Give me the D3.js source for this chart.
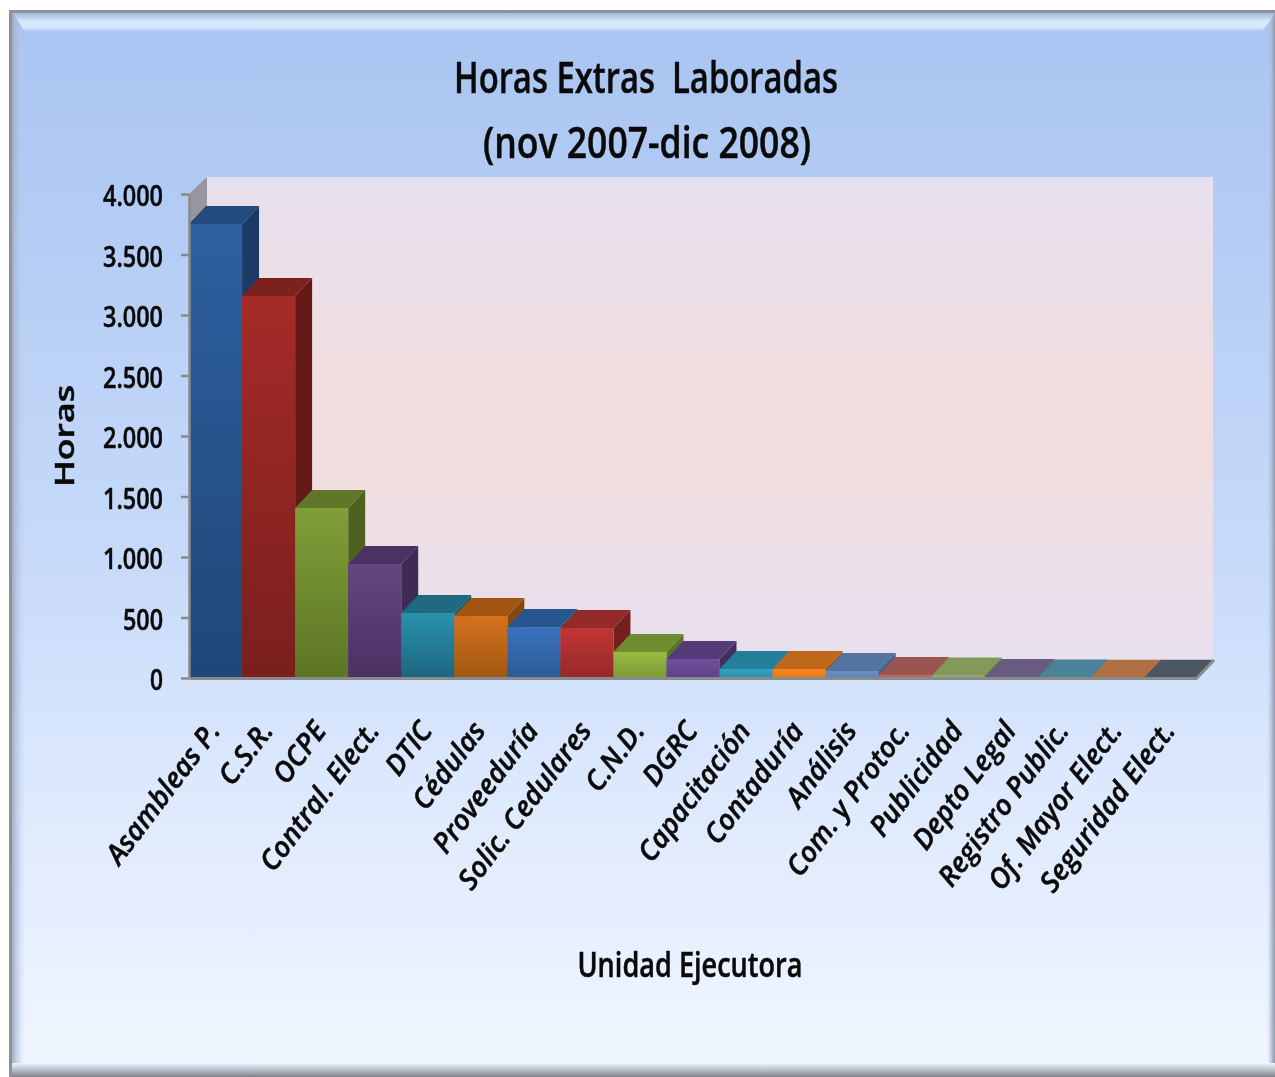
<!DOCTYPE html>
<html>
<head>
<meta charset="utf-8">
<script src="https://cdn.jsdelivr.net/npm/d3@7"></script>
<style>
  html, body { margin: 0; background: #fff; }
  svg { display: block; }
  text { font-family: "Open Sans", sans-serif; fill: #0a0a0a; stroke: #0a0a0a; stroke-width: 0.5px; white-space: pre; }
</style>
</head>
<body>
<div id="viz"></div>
<script>
// Chart values
const categories = ['Asambleas P.', 'C.S.R.', 'OCPE', 'Contral. Elect.', 'DTIC', 'Cédulas', 'Proveeduría',
  'Solic. Cedulares', 'C.N.D.', 'DGRC', 'Capacitación', 'Contaduría', 'Análisis', 'Com. y Protoc.',
  'Publicidad', 'Depto Legal', 'Registro Public.', 'Of. Mayor Elect.', 'Seguridad Elect.'];
const horas = [3752, 3157, 1405, 942, 537, 512, 421, 413, 215, 157, 74, 74, 58, 25, 20, 8, 5, 3, 2];
const yTicks = [0, 500, 1000, 1500, 2000, 2500, 3000, 3500, 4000];

// Colours per bar: front top, front bottom, top face, side face
const frontTop = ['#2d60a0', '#a52b28', '#809f38', '#65457f', '#2a91ad', '#d5701c', '#3a72bd', '#c03633', '#98bb43', '#7350a0', '#2ea4c8', '#fa8420', '#6a90c8', '#c26a66', '#9cb46c', '#7c6c96', '#5c98ac', '#c8804e', '#5c6674'];
const frontBottom = ['#1f4778', '#7a1f1d', '#5c7525', '#4a3163', '#1c667f', '#a05a12', '#2b5a97', '#96282a', '#7a9a35', '#5f4088', '#2890ae', '#e87818', '#5c80b8', '#b05c58', '#8ca45c', '#6c5c86', '#4c889c', '#b8703e', '#4c5664'];
const topFace = ['#224a7c', '#7c211e', '#5f7727', '#4b3264', '#1f6a80', '#a05513', '#27568f', '#932a27', '#6f8c30', '#553a78', '#237f9b', '#bf6819', '#54739f', '#9b5551', '#83995a', '#695a80', '#4a8298', '#b07044', '#4d5663'];
const sideFace = ['#1c3a66', '#651a18', '#4d6120', '#3f2a55', '#175a6c', '#864810', '#214a7a', '#73201e', '#5c7427', '#432e60', '#1c6a80', '#9a5514', '#44608a', '#7c4442', '#6c7f4a', '#564a6a', '#3c6c7e', '#925c38', '#3f4753'];

const W = 1275, H = 1077;
// Front plane of the plot and the depth of the 3D offset
const plot = { left: 189, right: 1197, top: 194, bottom: 678 };
const depth = { x: 17, y: 18 };

const svg = d3.select('#viz').append('svg').attr('width', W).attr('height', H);
const defs = svg.append('defs');

function vGrad(id, stops) {
  const g = defs.append('linearGradient').attr('id', id)
    .attr('x1', 0).attr('y1', 0).attr('x2', 0).attr('y2', 1);
  stops.forEach(s => g.append('stop').attr('offset', s[0]).attr('stop-color', s[1]));
}
function hGrad(id, stops) {
  const g = defs.append('linearGradient').attr('id', id)
    .attr('x1', 0).attr('y1', 0).attr('x2', 1).attr('y2', 0);
  stops.forEach(s => g.append('stop').attr('offset', s[0]).attr('stop-color', s[1]).attr('stop-opacity', s[2]));
}

vGrad('bg', [[0, '#a8c4f1'], [0.5, '#c6d9f9'], [0.72, '#dce8fd'], [1, '#f1f7ff']]);
vGrad('wall', [[0, '#e6e0ee'], [0.5, '#f3dddd'], [1, '#e7e0ee']]);
vGrad('bevelTop', [[0, '#9cb8de'], [0.45, '#d6ebfd'], [0.75, '#d4e8fb'], [1, '#a8c4f1']]);
vGrad('bevelBottom', [[0, '#eef5ff'], [0.5, '#b8bfca'], [1, '#7c8188']]);
hGrad('bevelLeft', [[0, '#8e96a4', 1], [0.35, '#a8b6d0', 0.8], [1, '#bcd0f5', 0]]);
hGrad('bevelRight', [[0, '#bcd0f5', 0], [0.6, '#a8b4cc', 0.8], [1, '#8e96a4', 1]]);

const root = svg.append('g').style('filter', 'blur(0.5px)');

// Panel background and bevelled frame
const frame = { x: 9, y: 10, w: 1266, h: 1067 };
root.append('rect').attr('x', frame.x).attr('y', frame.y).attr('width', frame.w).attr('height', frame.h).attr('fill', 'url(#bg)');
root.append('rect').attr('x', frame.x).attr('y', frame.y).attr('width', 16).attr('height', frame.h).attr('fill', 'url(#bevelLeft)');
root.append('rect').attr('x', frame.x + frame.w - 8).attr('y', frame.y).attr('width', 8).attr('height', frame.h).attr('fill', 'url(#bevelRight)');
root.append('polygon').attr('points', '13,13 1275,13 1262,32 25,32').attr('fill', 'url(#bevelTop)');
root.append('rect').attr('x', frame.x).attr('y', 1063).attr('width', frame.w).attr('height', 14).attr('fill', 'url(#bevelBottom)');
root.append('rect').attr('x', frame.x).attr('y', frame.y).attr('width', frame.w).attr('height', 3).attr('fill', '#8f9295');
root.append('rect').attr('x', frame.x).attr('y', frame.y).attr('width', 3).attr('height', frame.h).attr('fill', '#8f9295');

// Scales
const x = d3.scaleBand().domain(categories).range([plot.left, plot.right]);
const y = d3.scaleLinear().domain([0, 4000]).range([plot.bottom, plot.top]);

// Back wall, side wall and floor
const wallTop = plot.top - depth.y + 1;
root.append('rect')
  .attr('x', plot.left + depth.x + 1).attr('y', wallTop)
  .attr('width', plot.right - plot.left - 2)
  .attr('height', plot.bottom - depth.y - wallTop + 1)
  .attr('fill', 'url(#wall)');
root.append('polygon')
  .attr('points', [[plot.left, plot.top], [plot.left + depth.x + 1, wallTop], [plot.left + depth.x + 1, plot.bottom - depth.y], [plot.left, plot.bottom]].join(' '))
  .attr('fill', '#98959e');
root.append('polygon')
  .attr('points', [[plot.left, plot.bottom], [plot.right, plot.bottom], [plot.right + depth.x, plot.bottom - depth.y], [plot.left + depth.x, plot.bottom - depth.y]].join(' '))
  .attr('fill', '#8d8f94');

// Bars, left to right so each one covers the side of the previous one
const bars = root.append('g').selectAll('g').data(categories).enter().append('g');
categories.forEach((c, i) => vGrad(`bar${i}`, [[0, frontTop[i]], [1, frontBottom[i]]]));

bars.append('polygon')
  .attr('points', (d, i) => {
    const x1 = x(d) + x.bandwidth(), t = y(horas[i]);
    return [[x1, t], [x1 + depth.x, t - depth.y], [x1 + depth.x, plot.bottom - depth.y], [x1, plot.bottom]].join(' ');
  })
  .attr('fill', (d, i) => sideFace[i]);
bars.append('polygon')
  .attr('points', (d, i) => {
    const x0 = x(d), x1 = x0 + x.bandwidth(), t = y(horas[i]);
    return [[x0, t], [x1, t], [x1 + depth.x, t - depth.y], [x0 + depth.x, t - depth.y]].join(' ');
  })
  .attr('fill', (d, i) => topFace[i]);
bars.append('rect')
  .attr('x', d => x(d))
  .attr('y', (d, i) => y(horas[i]))
  .attr('width', x.bandwidth())
  .attr('height', (d, i) => plot.bottom - y(horas[i]))
  .attr('fill', (d, i) => `url(#bar${i})`);

// Y axis
const esLocale = d3.formatLocale({ decimal: ',', thousands: '.', grouping: [3], currency: ['', ''] });
const yAxis = root.append('g')
  .attr('transform', `translate(${plot.left},0)`)
  .call(d3.axisLeft(y).tickValues(yTicks).tickFormat(esLocale.format(',')).tickSize(8).tickPadding(18).tickSizeOuter(0));
yAxis.selectAll('path, line').attr('stroke', '#8a8a8a').attr('stroke-width', 2.5);
yAxis.selectAll('text')
  .attr('y', 3)
  .attr('font-size', 28).attr('font-weight', 600).attr('fill', '#0a0a0a')
  .attr('textLength', d => d === 0 ? 13 : d < 1000 ? 40 : 60)
  .attr('lengthAdjust', 'spacingAndGlyphs');

// X axis
const xAxis = root.append('g')
  .attr('transform', `translate(0,${plot.bottom})`)
  .call(d3.axisBottom(x).tickSize(0).tickSizeOuter(0));
xAxis.select('path').attr('stroke', '#8a8a8a').attr('stroke-width', 3);
xAxis.selectAll('text')
  .attr('text-anchor', 'end')
  .attr('font-size', 28).attr('font-weight', 600).attr('font-style', 'italic').attr('fill', '#0a0a0a')
  .attr('transform', 'translate(6,53) rotate(-53)')
  .attr('x', 0).attr('y', 0).attr('dy', 0);

// Last bit of floor edge on the right
root.append('line')
  .attr('x1', plot.right).attr('y1', plot.bottom)
  .attr('x2', plot.right + depth.x).attr('y2', plot.bottom - depth.y)
  .attr('stroke', '#8a8a8a').attr('stroke-width', 3);

// Titles and axis labels
function label(txt, cx, cy, size, len, weight, rotate) {
  root.append('text')
    .attr('transform', `translate(${cx},${cy})${rotate ? ` rotate(${rotate})` : ''}`)
    .attr('text-anchor', 'middle')
    .attr('font-size', size).attr('font-weight', weight)
    .attr('textLength', len).attr('lengthAdjust', 'spacingAndGlyphs')
    .text(txt);
}
label('Horas Extras  Laboradas', 646, 93, 44, 384, 600);
label('(nov 2007-dic 2008)', 647, 158, 44, 328, 600);
label('Unidad Ejecutora', 690, 977, 34, 225, 600);
label('Horas', 74, 436, 27, 102, 600, -90);
</script>
</body>
</html>
